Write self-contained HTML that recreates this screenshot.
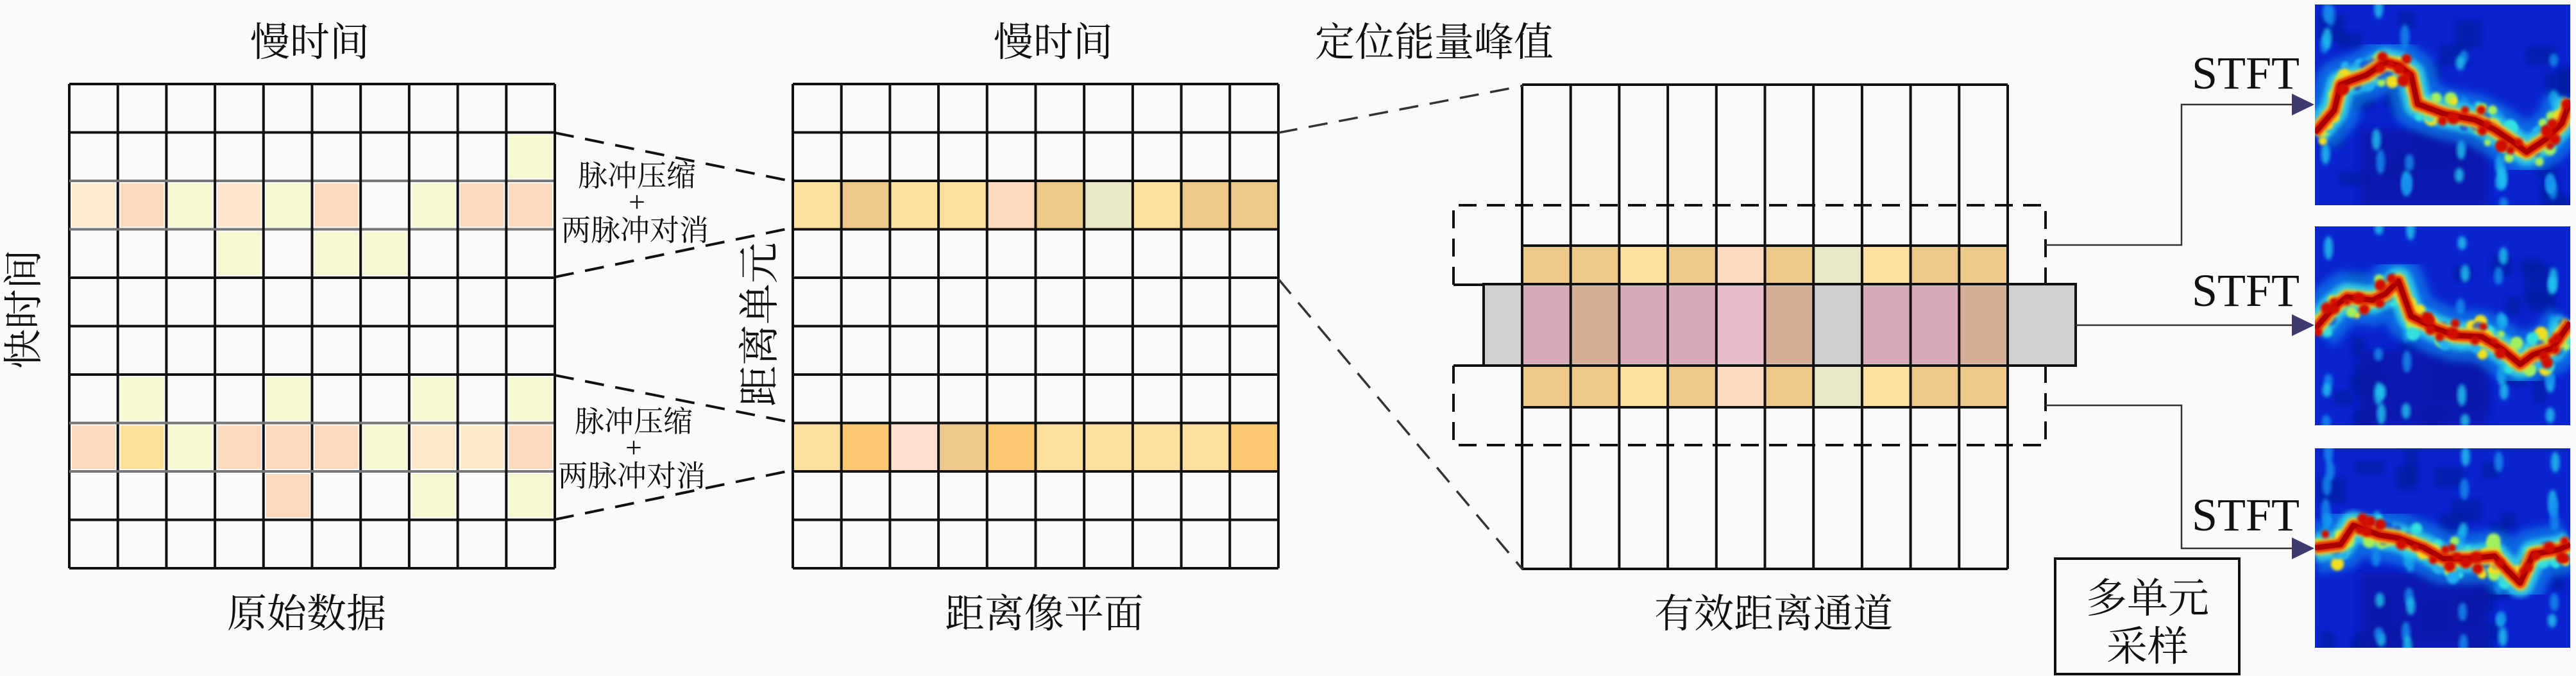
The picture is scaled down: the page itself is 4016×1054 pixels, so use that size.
<!DOCTYPE html>
<html><head><meta charset="utf-8">
<style>
html,body{margin:0;padding:0;background:#fafafa;}
svg{display:block;}
text{font-family:"Liberation Serif","Noto Serif CJK SC",serif;fill:#111;}
</style></head>
<body>
<svg id="s" width="4016" height="1054" viewBox="0 0 4016 1054" xmlns="http://www.w3.org/2000/svg">
<defs>
<filter id="b6" x="-20%" y="-20%" width="140%" height="140%"><feGaussianBlur stdDeviation="6"/></filter>
<filter id="b4" x="-30%" y="-30%" width="160%" height="160%"><feGaussianBlur stdDeviation="4"/></filter>
<filter id="b3" x="-20%" y="-20%" width="140%" height="140%"><feGaussianBlur stdDeviation="3"/></filter>
<filter id="b2" x="-30%" y="-30%" width="160%" height="160%"><feGaussianBlur stdDeviation="2"/></filter>
</defs>
<rect width="4016" height="1054" fill="#fafafa"/>
<g id="g1"></g>
<g id="g2"></g>
<g id="g3"></g>

<text x="483" y="87" font-size="62" text-anchor="middle">慢时间</text>
<text x="478" y="978" font-size="62" text-anchor="middle">原始数据</text>
<text transform="translate(58,482) rotate(-90)" font-size="62" text-anchor="middle">快时间</text>
<text x="1642" y="87" font-size="62" text-anchor="middle">慢时间</text>
<text x="2236" y="87" font-size="62" text-anchor="middle">定位能量峰值</text>
<text x="1628" y="978" font-size="62" text-anchor="middle">距离像平面</text>
<text x="2765" y="978" font-size="62" text-anchor="middle">有效距离通道</text>
<text transform="translate(1206,506) rotate(-90)" font-size="64" text-anchor="middle">距离单元</text>

<text x="993" y="290" font-size="46" text-anchor="middle">脉冲压缩</text>
<text x="993" y="330" font-size="46" text-anchor="middle">+</text>
<text x="990" y="375" font-size="46" text-anchor="middle">两脉冲对消</text>
<text x="988" y="673" font-size="46" text-anchor="middle">脉冲压缩</text>
<text x="988" y="713" font-size="46" text-anchor="middle">+</text>
<text x="985" y="758" font-size="46" text-anchor="middle">两脉冲对消</text>

<g stroke="#111" stroke-width="4" stroke-dasharray="30,18" fill="none">
<line x1="865" y1="207" x2="1236" y2="283"/>
<line x1="865" y1="432" x2="1236" y2="355"/>
<line x1="865" y1="585" x2="1236" y2="659"/>
<line x1="865" y1="810" x2="1236" y2="733"/>
</g>
<g stroke="#333" stroke-width="3.5" stroke-dasharray="30,18" fill="none">
<line x1="1993" y1="207" x2="2374" y2="134"/>
<line x1="1993" y1="435" x2="2374" y2="888"/>
</g>

<g stroke="#333" stroke-width="2.5" fill="none">
<polyline points="3189,382 3401,382 3401,163 3578,163"/>
<polyline points="3236,507 3578,507"/>
<polyline points="3189,632 3401,632 3401,855 3578,855"/>
</g>
<g fill="#3d3b6e">
<polygon points="3573,146 3608,163 3573,180"/>
<polygon points="3573,490 3608,507 3573,524"/>
<polygon points="3573,838 3608,855 3573,872"/>
</g>
<text x="3501" y="138" font-size="72" text-anchor="middle">STFT</text>
<text x="3501" y="477" font-size="72" text-anchor="middle">STFT</text>
<text x="3501" y="827" font-size="72" text-anchor="middle">STFT</text>

<rect x="3204" y="871" width="287" height="180" fill="none" stroke="#111" stroke-width="4"/>
<text x="3348" y="955" font-size="64" text-anchor="middle">多单元</text>
<text x="3348" y="1030" font-size="64" text-anchor="middle">采样</text>

<g id="spec"></g>
</svg>
<script>
var NS="http://www.w3.org/2000/svg";
function el(p,t,a){var e=document.createElementNS(NS,t);for(var k in a)e.setAttribute(k,a[k]);p.appendChild(e);return e;}
var seed=12345;function rnd(){seed=(seed*16807)%2147483647;return (seed-1)/2147483646;}
var g1=document.getElementById('g1');
var x0=108,y0=131,cw=75.7,ch=75.5;
var c1={
 "1,9":"#f6f8d0",
 "2,0":"#fdebd0","2,1":"#fcd8bc","2,2":"#f6f8d0","2,3":"#fde6cc","2,4":"#f6f8d0","2,5":"#fcd8bc","2,6":"#fafafa","2,7":"#f6f8d0","2,8":"#fcd8bc","2,9":"#fcd8bc",
 "3,3":"#f6f8d0","3,5":"#f6f8d0","3,6":"#f6f8d0",
 "6,1":"#f6f8d0","6,4":"#f6f8d0","6,7":"#f6f8d0","6,9":"#f6f8d0",
 "7,0":"#fcd8bc","7,1":"#fde09a","7,2":"#f6f8d0","7,3":"#fcd8bc","7,4":"#fcd8bc","7,5":"#fcd8bc","7,6":"#f6f8d0","7,7":"#fde8cc","7,8":"#fde8cc","7,9":"#fcd8bc",
 "8,4":"#fcd8bc","8,7":"#f6f8d0","8,9":"#f6f8d0"};
for(var k in c1){var p=k.split(',');el(g1,'rect',{x:x0+p[1]*cw+4,y:y0+p[0]*ch+4,width:cw-8,height:ch-8,fill:c1[k]});}
for(var i=0;i<=10;i++){el(g1,'line',{x1:x0+i*cw,y1:y0,x2:x0+i*cw,y2:y0+10*ch,stroke:'#111','stroke-width':4});
 el(g1,'line',{x1:x0,y1:y0+i*ch,x2:x0+10*cw,y2:y0+i*ch,stroke:(i==2||i==3||i==7||i==8)?'#777':'#111','stroke-width':4});}
var g2=document.getElementById('g2');
x0=1236;y0=131;
var r2=["#fde0a0","#ecc98a","#fde0a0","#fde0a0","#fdd9c0","#ecc98a","#e8e8c8","#fde0a0","#ecc98a","#ecc98a"];
var r7=["#fde0a0","#fbc870","#fde0d0","#ecc98a","#fbc870","#fde0a0","#fde0a0","#fde0a0","#fde0a0","#fbc870"];
for(var j=0;j<10;j++){el(g2,'rect',{x:x0+j*cw,y:y0+2*ch,width:cw,height:ch,fill:r2[j]});el(g2,'rect',{x:x0+j*cw,y:y0+7*ch,width:cw,height:ch,fill:r7[j]});}
for(var i=0;i<=10;i++){el(g2,'line',{x1:x0+i*cw,y1:y0,x2:x0+i*cw,y2:y0+10*ch,stroke:'#111','stroke-width':4});
 el(g2,'line',{x1:x0,y1:y0+i*ch,x2:x0+10*cw,y2:y0+i*ch,stroke:'#111','stroke-width':4});}
var g3=document.getElementById('g3');
x0=2373;
var b=["#ecc98a","#ecc98a","#fde0a0","#ecc98a","#fdd9c0","#ecc98a","#e8e8c8","#fde0a0","#ecc98a","#ecc98a"];
var pk=["#d8aab8","#d6ad96","#d8aab8","#d8aab8","#e8bccb","#d6ad96","#cfcfcf","#d8aab8","#d8aab8","#d6ad96"];
for(var j=0;j<10;j++){el(g3,'rect',{x:x0+j*cw,y:383,width:cw,height:60,fill:b[j]});el(g3,'rect',{x:x0+j*cw,y:570,width:cw,height:65,fill:b[j]});}
var d={stroke:'#111','stroke-width':4,'stroke-dasharray':'28,16',fill:'none'};
el(g3,'polyline',Object.assign({points:"2266,444 2266,320 3189,320 3189,444"},d));
el(g3,'polyline',Object.assign({points:"2266,570 2266,694 3189,694 3189,570"},d));
el(g3,'line',{x1:2266,y1:444,x2:2314,y2:444,stroke:'#111','stroke-width':4});
el(g3,'line',{x1:2266,y1:570,x2:2314,y2:570,stroke:'#111','stroke-width':4});
el(g3,'rect',{x:2313,y:443,width:923,height:127,fill:'#d0d0d0',stroke:'#111','stroke-width':4});
for(var j=0;j<10;j++){el(g3,'rect',{x:x0+j*cw,y:446,width:cw,height:121,fill:pk[j]});}
for(var i=0;i<=10;i++){el(g3,'line',{x1:x0+i*cw,y1:132,x2:x0+i*cw,y2:887,stroke:'#111','stroke-width':4});}
[132,383,635,887].forEach(function(y){el(g3,'line',{x1:x0,y1:y,x2:x0+10*cw,y2:y,stroke:'#111','stroke-width':4});});
el(g3,'line',{x1:x0,y1:443,x2:x0+10*cw,y2:443,stroke:'#111','stroke-width':4});
el(g3,'line',{x1:x0,y1:570,x2:x0+10*cw,y2:570,stroke:'#111','stroke-width':4});

var sp=document.getElementById('spec');
var specs=[
 {x:3609,y:7,h:313,pts:[[0,200],[30,165],[40,125],[80,110],[110,90],[130,95],[150,110],[160,155],[200,170],[250,180],[280,195],[310,215],[330,230],[360,210],[385,185],[398,150]]},
 {x:3609,y:353,h:310,pts:[[0,160],[30,125],[50,110],[90,115],[110,105],[130,85],[150,140],[190,160],[220,170],[260,172],[290,190],[320,215],[340,200],[370,190],[398,150]]},
 {x:3609,y:699,h:311,pts:[[0,155],[40,150],[60,120],[100,135],[130,140],[170,155],[200,172],[240,172],[280,168],[300,190],[320,210],[340,165],[380,158],[398,150]]}
];
function interp(pts,x){for(var i=0;i<pts.length-1;i++){if(x>=pts[i][0]&&x<=pts[i+1][0]){var t=(x-pts[i][0])/(pts[i+1][0]-pts[i][0]);return pts[i][1]+t*(pts[i+1][1]-pts[i][1]);}}return pts[pts.length-1][1];}
specs.forEach(function(s,idx){
 var g=el(sp,'g',{transform:'translate('+s.x+','+s.y+')'});
 var cl=el(g,'clipPath',{id:'cp'+idx});el(cl,'rect',{x:0,y:0,width:398,height:s.h});
 var gg=el(g,'g',{'clip-path':'url(#cp'+idx+')'});
 el(gg,'rect',{x:0,y:0,width:398,height:s.h,fill:'#0a24d0'});
 for(var n=0;n<25;n++){el(gg,'rect',{x:rnd()*380,y:rnd()*s.h,width:20+rnd()*30,height:20+rnd()*40,fill:'#061a9c',opacity:0.6,filter:'url(#b4)'});}
 el(gg,'rect',{x:70,y:s.h*0.62,width:200,height:s.h*0.38,fill:'#0818a8',opacity:0.8,filter:'url(#b6)'});
 // cyan noise streak blobs
 [100,145,230,290,370,20].forEach(function(vx){
  for(var n=0;n<6;n++){var yy=rnd()*s.h;el(gg,'ellipse',{cx:vx+(rnd()-0.5)*10,cy:yy,rx:7,ry:10+rnd()*10,fill:rnd()<0.5?'#20c8f0':'#1890f0',opacity:0.8,filter:'url(#b3)'});}
 });
 var pts=s.pts.map(function(p){return p[0]+','+p[1];}).join(' ');
 el(gg,'polyline',{points:pts,fill:'none',stroke:'#1090f0','stroke-width':80,'stroke-linejoin':'round',opacity:0.6,filter:'url(#b6)'});
 el(gg,'polyline',{points:pts,fill:'none',stroke:'#30d8e8','stroke-width':44,'stroke-linejoin':'round',opacity:0.85,filter:'url(#b4)'});
 // speckles around curve
 for(var n=0;n<70;n++){var xx=rnd()*398;var yy=interp(s.pts,xx)+(rnd()-0.5)*60;
  el(gg,'circle',{cx:xx,cy:yy,r:5+rnd()*6,fill:['#30e0e0','#a0f060','#20b0f0','#f0e020'][Math.floor(rnd()*4)],filter:'url(#b2)'});}
 for(var n=0;n<20;n++){var xx=rnd()*398;var yy=interp(s.pts,xx)+(rnd()-0.5)*30;
  el(gg,'circle',{cx:xx,cy:yy,r:5+rnd()*5,fill:'#0a30d0',opacity:0.7,filter:'url(#b2)'});}
 el(gg,'polyline',{points:pts,fill:'none',stroke:'#f8d020','stroke-width':24,'stroke-linejoin':'round',filter:'url(#b3)'});
 el(gg,'polyline',{points:pts,fill:'none',stroke:'#e02800','stroke-width':16,'stroke-linejoin':'round',filter:'url(#b2)'});
 el(gg,'polyline',{points:pts,fill:'none',stroke:'#a80000','stroke-width':8,'stroke-linejoin':'round'});
 for(var n=0;n<25;n++){var xx=rnd()*398;var yy=interp(s.pts,xx)+(rnd()-0.5)*40;
  el(gg,'circle',{cx:xx,cy:yy,r:5+rnd()*5,fill:'#d01000',filter:'url(#b2)'});}
});
</script>
</body></html>
